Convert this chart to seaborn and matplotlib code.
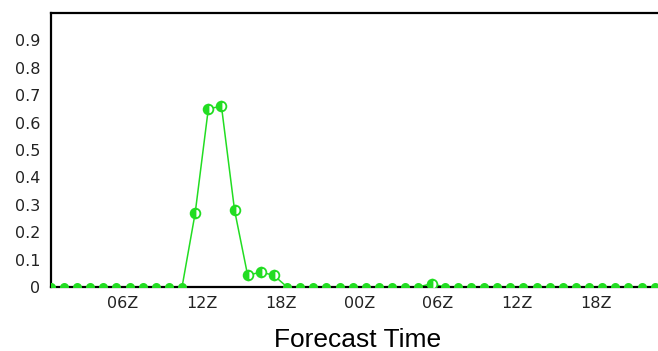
import matplotlib
matplotlib.use("Agg")
import matplotlib.pyplot as plt
import seaborn as sns
import pandas as pd
import numpy as np

# Forecast hours (hours since 00Z of day 1), hourly at half past
hours = [h + 0.5 for h in range(47)]
probability = [0.0] * 47
nonzero = {11.5: 0.27, 12.5: 0.65, 13.5: 0.66, 14.5: 0.28,
           15.5: 0.042, 16.5: 0.055, 17.5: 0.042, 29.5: 0.012}
for i, h in enumerate(hours):
    if h in nonzero:
        probability[i] = nonzero[h]

tick_hours = [6, 12, 18, 24, 30, 36, 42]
tick_labels = ["06Z", "12Z", "18Z", "00Z", "06Z", "12Z", "18Z"]
y_ticks = [0, 0.1, 0.2, 0.3, 0.4, 0.5, 0.6, 0.7, 0.8, 0.9]
y_tick_labels = ["0", "0.1", "0.2", "0.3", "0.4", "0.5", "0.6", "0.7", "0.8", "0.9"]

df = pd.DataFrame({"hour": hours, "prob": probability})
df_nz = df[df["prob"] > 0]
df_z = df[df["prob"] == 0]

sns.set_style("white")
plt.rcParams["font.family"] = ["DejaVu Sans"]

fig = plt.figure(figsize=(6.58, 3.51), dpi=100)
ax = fig.add_axes([51 / 658, 1 - 287 / 351, (665 - 51) / 658, (287 - 13) / 351])

green = "#22dd22"
# connecting line (below the black baseline spine)
sns.lineplot(data=df, x="hour", y="prob", ax=ax, color=green, linewidth=1.1, zorder=2)
# small markers for zero values (sit on top of the baseline)
sns.lineplot(data=df_z, x="hour", y="prob", ax=ax, color=green, linestyle="",
             marker="o", markersize=6.5, markeredgewidth=0, zorder=4)
# half-filled markers for non-zero values
sns.lineplot(data=df_nz, x="hour", y="prob", ax=ax, color=green, linestyle="",
             marker="o", markersize=7, fillstyle="left", markerfacecoloralt="white",
             markeredgecolor=green, markerfacecolor=green, markeredgewidth=1.3,
             zorder=5)

ax.set_xlim(0.52, 47.28)
ax.set_ylim(0, 1.0)
ax.set_xticks(tick_hours)
ax.set_xticklabels(tick_labels)
ax.set_yticks(y_ticks)
ax.set_yticklabels(y_tick_labels)

for side in ["left", "top", "bottom", "right"]:
    ax.spines[side].set_color("black")
    ax.spines[side].set_linewidth(1.6)
ax.spines["bottom"].set_zorder(3)

ax.tick_params(axis="both", which="major", length=3.5, width=1, color="black",
               labelsize=11.5, labelcolor="#222222", direction="out")
ax.tick_params(axis="y", pad=4)
ax.tick_params(axis="x", pad=3)
ax.set_ylabel("")
ax.set_xlabel("Forecast Time", fontsize=19, family=["Liberation Sans"], labelpad=12,
              color="black")
ax.grid(False)

fig.savefig("out.png", dpi=100)
